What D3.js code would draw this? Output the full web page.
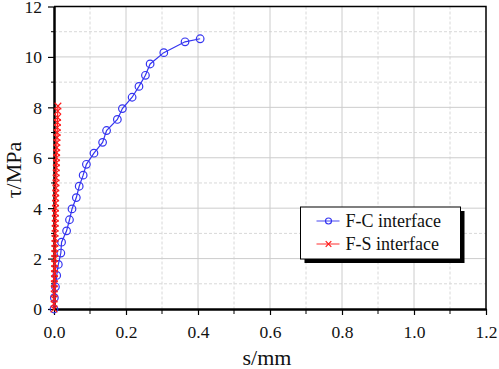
<!doctype html>
<html>
  <head>
    <meta charset="utf-8">
    <script src="https://cdn.jsdelivr.net/npm/d3@7/dist/d3.min.js"></script>
    <style>
      body { margin: 0; background: #fff; }
    </style>
  </head>
  <body>
    <div id="chart"></div>
    <script>
      // F-C interface
      const fcSlip = [0, 0.001, 0.004, 0.0075, 0.012, 0.019, 0.021, 0.035, 0.043, 0.050, 0.062, 0.070,
        0.081, 0.090, 0.111, 0.135, 0.146, 0.176, 0.190, 0.217, 0.236, 0.254, 0.267, 0.305, 0.364, 0.406];
      const fcStress = [0, 0.45, 0.88, 1.33, 1.77, 2.22, 2.65, 3.10, 3.54, 3.97, 4.42, 4.87,
        5.31, 5.74, 6.18, 6.61, 7.08, 7.52, 7.95, 8.40, 8.83, 9.27, 9.72, 10.17, 10.60, 10.72];

      // F-S interface
      const fsSlip = [0, 0.0002, 0.0004, 0.0006, 0.0008, 0.001, 0.0012, 0.0014, 0.0016, 0.0018,
        0.002, 0.0022, 0.0024, 0.0026, 0.0028, 0.003, 0.0032, 0.0034, 0.0036, 0.0038,
        0.004, 0.0043, 0.0046, 0.0049, 0.0052, 0.0055, 0.0058, 0.0061, 0.0064, 0.0067,
        0.007, 0.0073, 0.0076, 0.008, 0.0084, 0.0088, 0.0092, 0.0096, 0.010, 0.0105, 0.011];
      const fsStress = [0, 0.2, 0.4, 0.6, 0.8, 1.0, 1.2, 1.4, 1.6, 1.8,
        2.0, 2.2, 2.4, 2.6, 2.8, 3.0, 3.2, 3.4, 3.6, 3.8,
        4.0, 4.2, 4.4, 4.6, 4.8, 5.0, 5.2, 5.4, 5.6, 5.8,
        6.0, 6.2, 6.4, 6.6, 6.8, 7.0, 7.2, 7.4, 7.6, 7.85, 8.05];

      const xTicks = [0, 0.2, 0.4, 0.6, 0.8, 1.0, 1.2];
      const xMinor = [0.1, 0.3, 0.5, 0.7, 0.9, 1.1];
      const yTicks = [0, 2, 4, 6, 8, 10, 12];
      const yMinor = [1, 3, 5, 7, 9, 11];

      (function() {
        const serif = "Liberation Serif";
        const series = [
          { name: "F-C interface", color: "#3535f0", marker: "circle",
            pts: fcSlip.map((s, i) => [s, fcStress[i]]) },
          { name: "F-S interface", color: "#ff1a1a", marker: "cross",
            pts: fsSlip.map((s, i) => [s, fsStress[i]]) }
        ];

        const width = 499, height = 369;
        const m = { left: 54, right: 486, top: 6.5, bottom: 309 };

        const x = d3.scaleLinear().domain([0, 1.2]).range([m.left, m.right]);
        const y = d3.scaleLinear().domain([0, 12]).range([m.bottom, m.top]);

        const svg = d3.select("#chart").append("svg")
          .attr("width", width)
          .attr("height", height);

        // grid
        const grid = svg.append("g");
        grid.selectAll(".vminor").data(xMinor).join("line")
          .attr("x1", d => x(d)).attr("x2", d => x(d))
          .attr("y1", m.top).attr("y2", m.bottom)
          .attr("stroke", "#d8d8d8").attr("stroke-dasharray", "3,2");
        grid.selectAll(".hminor").data(yMinor).join("line")
          .attr("y1", d => y(d)).attr("y2", d => y(d))
          .attr("x1", m.left).attr("x2", m.right)
          .attr("stroke", "#d8d8d8").attr("stroke-dasharray", "3,2");
        grid.selectAll(".vmajor").data(xTicks.slice(1, -1)).join("line")
          .attr("x1", d => x(d)).attr("x2", d => x(d))
          .attr("y1", m.top).attr("y2", m.bottom)
          .attr("stroke", "#cccccc");
        grid.selectAll(".hmajor").data(yTicks.slice(1, -1)).join("line")
          .attr("y1", d => y(d)).attr("y2", d => y(d))
          .attr("x1", m.left).attr("x2", m.right)
          .attr("stroke", "#cccccc");

        // frame top / right
        svg.append("path")
          .attr("d", `M${m.left},${m.top}H${m.right}V${m.bottom}`)
          .attr("fill", "none").attr("stroke", "#000").attr("stroke-width", 1.5);

        // axes
        const xAxis = svg.append("g")
          .attr("transform", `translate(0,${m.bottom})`)
          .call(d3.axisBottom(x).tickValues(xTicks).tickFormat(d3.format(".1f")).tickSizeInner(6).tickSizeOuter(0).tickPadding(11));
        xAxis.append("g").selectAll("line").data(xMinor).join("line")
          .attr("x1", d => x(d)).attr("x2", d => x(d))
          .attr("y1", 0).attr("y2", 5).attr("stroke", "#000");

        const yAxis = svg.append("g")
          .attr("transform", `translate(${m.left},0)`)
          .call(d3.axisLeft(y).tickValues(yTicks).tickSizeInner(6).tickSizeOuter(0).tickPadding(6));
        yAxis.append("g").selectAll("line").data(yMinor).join("line")
          .attr("y1", d => y(d)).attr("y2", d => y(d))
          .attr("x1", 0).attr("x2", -3).attr("stroke", "#000");

        [xAxis, yAxis].forEach(a => {
          a.attr("font-family", null).attr("font-size", null);
          a.select(".domain").attr("stroke", "#000").attr("stroke-width", 2.5);
          a.selectAll(".tick line").attr("stroke", "#000").attr("stroke-width", 1.2);
          a.selectAll(".tick text").attr("fill", "#111")
            .style("font-family", serif).style("font-size", "17.5px");
        });
        yAxis.selectAll(".tick text").attr("dy", "0.34em");

        // series
        const line = d3.line().x(d => x(d[0])).y(d => y(d[1]));
        series.forEach(s => {
          const g = svg.append("g");
          g.append("path").datum(s.pts)
            .attr("d", line).attr("fill", "none")
            .attr("stroke", s.color).attr("stroke-width", 1.2);
          if (s.marker === "circle") {
            g.selectAll("circle").data(s.pts).join("circle")
              .attr("cx", d => x(d[0])).attr("cy", d => y(d[1])).attr("r", 3.8)
              .attr("fill", "none").attr("stroke", s.color).attr("stroke-width", 1.2);
          } else {
            g.selectAll("path.m").data(s.pts).join("path")
              .attr("class", "m")
              .attr("d", d => {
                const cx = x(d[0]), cy = y(d[1]), r = 3.3;
                return `M${cx - r},${cy - r}L${cx + r},${cy + r}M${cx - r},${cy + r}L${cx + r},${cy - r}`;
              })
              .attr("stroke", s.color).attr("stroke-width", 1.2);
          }
        });

        // legend
        const lx = 300.5, ly = 207, lw = 160, lh = 52;
        const legend = svg.append("g");
        legend.append("rect").attr("x", lx + 4).attr("y", ly + 4).attr("width", lw).attr("height", lh).attr("fill", "#000");
        legend.append("rect").attr("x", lx).attr("y", ly).attr("width", lw).attr("height", lh)
          .attr("fill", "#fff").attr("stroke", "#000").attr("stroke-width", 1);
        series.forEach((s, i) => {
          const cy = ly + 14 + i * 23;
          legend.append("line").attr("x1", lx + 16).attr("x2", lx + 39).attr("y1", cy).attr("y2", cy)
            .attr("stroke", s.color).attr("stroke-width", 1.2).attr("opacity", 0.75);
          if (s.marker === "circle") {
            legend.append("circle").attr("cx", lx + 28).attr("cy", cy).attr("r", 3)
              .attr("fill", "none").attr("stroke", s.color).attr("stroke-width", 1.2);
          } else {
            const r = 2.8;
            legend.append("path")
              .attr("d", `M${lx + 28 - r},${cy - r}L${lx + 28 + r},${cy + r}M${lx + 28 - r},${cy + r}L${lx + 28 + r},${cy - r}`)
              .attr("stroke", s.color).attr("stroke-width", 1.2);
          }
          legend.append("text").attr("x", lx + 45).attr("y", cy + 6)
            .attr("fill", "#111").style("font-family", serif).style("font-size", "18px").text(s.name);
        });

        // axis titles
        svg.append("text").attr("x", 267).attr("y", 365).attr("text-anchor", "middle")
          .attr("fill", "#111").style("font-family", serif).style("font-size", "22px").text("s/mm");
        svg.append("text").attr("transform", "translate(21,170) rotate(-90)").attr("text-anchor", "middle")
          .attr("fill", "#111").style("font-family", serif).style("font-size", "22px").text("τ/MPa");
      })();
    </script>
  </body>
</html>
